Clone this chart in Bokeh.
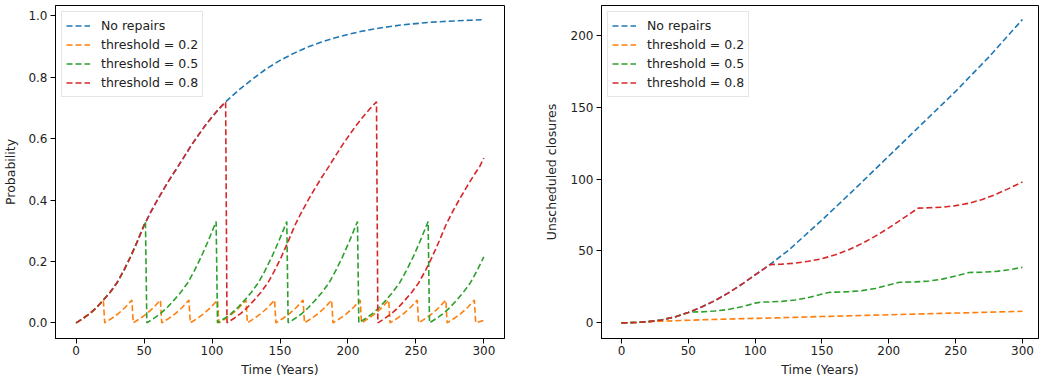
from bokeh.plotting import figure
from bokeh.layouts import row
from bokeh.models import Range1d, FixedTicker, PrintfTickFormatter
from bokeh.embed import file_html
from bokeh.resources import INLINE

# ---------------- data ----------------
series_names = ["No repairs", "threshold = 0.2", "threshold = 0.5", "threshold = 0.8"]
series_colors = ["#1f77b4", "#ff7f0e", "#2ca02c", "#d62728"]

x_ticks = [0, 50, 100, 150, 200, 250, 300]
prob_ticks = [0.0, 0.2, 0.4, 0.6, 0.8, 1.0]
closure_ticks = [0, 50, 100, 150, 200]

# Probability, no repairs
prob_none_t = [0, 5, 10, 15, 20, 25, 30, 35, 40, 45, 50, 55, 60, 65, 70, 75, 80, 85, 90, 95, 100, 105, 110,
               120, 130, 140, 150, 160, 170, 180, 190, 200, 210, 220, 230, 240, 250, 260, 270, 280, 290, 300]
prob_none_p = [0.000, 0.014, 0.030, 0.050, 0.074, 0.100, 0.130, 0.170, 0.215, 0.265, 0.318, 0.362, 0.402,
               0.440, 0.476, 0.510, 0.545, 0.580, 0.612, 0.643, 0.671, 0.697, 0.720,
               0.760, 0.795, 0.828, 0.855, 0.878, 0.898, 0.914, 0.928, 0.940, 0.950, 0.958, 0.965,
               0.971, 0.975, 0.979, 0.982, 0.984, 0.986, 0.988]

# Probability, threshold = 0.2
prob_02_t = [0, 5, 10, 15, 20, 21, 26, 31, 36, 41, 42, 47, 52, 57, 62, 63, 68, 73, 78, 83,
             84, 89, 94, 99, 104, 105, 110, 115, 120, 125, 126, 131, 136, 141, 146,
             147, 152, 157, 162, 167, 168, 173, 178, 183, 188, 189, 194, 199, 204, 209,
             210, 215, 220, 225, 230, 231, 236, 241, 246, 251, 252, 257, 262, 267, 272,
             273, 278, 283, 288, 293, 294, 300]
prob_02_p = [0.0, 0.014, 0.030, 0.050, 0.074, 0.0, 0.014, 0.030, 0.050, 0.074,
             0.0, 0.014, 0.030, 0.050, 0.074, 0.0, 0.014, 0.030, 0.050, 0.074,
             0.0, 0.014, 0.030, 0.050, 0.074, 0.0, 0.014, 0.030, 0.050, 0.074,
             0.0, 0.014, 0.030, 0.050, 0.074, 0.0, 0.014, 0.030, 0.050, 0.074,
             0.0, 0.014, 0.030, 0.050, 0.074, 0.0, 0.014, 0.030, 0.050, 0.074,
             0.0, 0.014, 0.030, 0.050, 0.074, 0.0, 0.014, 0.030, 0.050, 0.074,
             0.0, 0.014, 0.030, 0.050, 0.074, 0.0, 0.014, 0.030, 0.050, 0.074,
             0.0, 0.008]

# Probability, threshold = 0.5
prob_05_t = [0, 5, 10, 15, 20, 25, 30, 35, 40, 45, 51,
             52, 57, 62, 67, 72, 77, 82, 87, 92, 97, 103,
             104, 109, 114, 119, 124, 129, 134, 139, 144, 149, 155,
             156, 161, 166, 171, 176, 181, 186, 191, 196, 201, 207,
             208, 213, 218, 223, 228, 233, 238, 243, 248, 253, 259,
             260, 265, 270, 275, 280, 285, 290, 295, 300]
prob_05_p = [0.0, 0.014, 0.030, 0.050, 0.074, 0.100, 0.130, 0.170, 0.215, 0.265, 0.330,
             0.0, 0.014, 0.030, 0.050, 0.074, 0.100, 0.130, 0.170, 0.215, 0.265, 0.330,
             0.0, 0.014, 0.030, 0.050, 0.074, 0.100, 0.130, 0.170, 0.215, 0.265, 0.330,
             0.0, 0.014, 0.030, 0.050, 0.074, 0.100, 0.130, 0.170, 0.215, 0.265, 0.330,
             0.0, 0.014, 0.030, 0.050, 0.074, 0.100, 0.130, 0.170, 0.215, 0.265, 0.330,
             0.0, 0.014, 0.030, 0.050, 0.074, 0.100, 0.130, 0.170, 0.215]

# Probability, threshold = 0.8
prob_08_t = [0, 5, 10, 15, 20, 25, 30, 35, 40, 45, 50, 55, 60, 65, 70, 75, 80, 85, 90, 95, 100, 105, 110,
             111, 116, 121, 126, 131, 136, 141, 146, 151, 156, 161, 166, 171, 176, 181, 186, 191, 196,
             201, 206, 211, 216, 221,
             222, 227, 232, 237, 242, 247, 252, 257, 262, 267, 272, 277, 282, 287, 292, 297, 300]
prob_08_p = [0.000, 0.014, 0.030, 0.050, 0.074, 0.100, 0.130, 0.170, 0.215, 0.265, 0.318, 0.362, 0.402,
             0.440, 0.476, 0.510, 0.545, 0.580, 0.612, 0.643, 0.671, 0.697, 0.720,
             0.000, 0.014, 0.030, 0.050, 0.074, 0.100, 0.130, 0.170, 0.215, 0.265, 0.318, 0.362, 0.402,
             0.440, 0.476, 0.510, 0.545, 0.580, 0.612, 0.643, 0.671, 0.697, 0.720,
             0.000, 0.014, 0.030, 0.050, 0.074, 0.100, 0.130, 0.170, 0.215, 0.265, 0.318, 0.362, 0.402,
             0.440, 0.476, 0.510, 0.537]

# Unscheduled closures
clos_none_t = [0, 10, 20, 30, 40, 50, 60, 70, 80, 90, 100, 111, 125, 150, 175, 200, 225, 250, 275, 300]
clos_none_c = [0, 0.2, 0.8, 2.0, 4.1, 7.2, 11.0, 15.5, 20.8, 26.8, 33.3, 40.5, 50.5, 71.5, 93.5,
               116.0, 138.5, 161.0, 185.0, 211.0]

clos_02_t = [0, 10, 20, 30, 50, 75, 100, 125, 150, 175, 200, 225, 250, 275, 300]
clos_02_c = [0, 0.2, 0.7, 1.1, 1.8, 2.5, 3.1, 3.7, 4.4, 5.0, 5.6, 6.2, 6.8, 7.4, 8.0]

clos_05_t = [0, 10, 20, 30, 40, 50, 52, 60, 70, 80, 90, 100, 104, 110, 120, 130, 140, 150, 156,
             160, 170, 180, 190, 200, 208, 220, 230, 240, 250, 260, 270, 280, 290, 300]
clos_05_c = [0, 0.2, 0.8, 2.0, 4.1, 7.2, 7.5, 7.65, 8.2, 9.3, 11.2, 13.7, 14.4, 14.5, 14.9, 15.9,
             17.6, 20.0, 21.3, 21.35, 21.65, 22.4, 23.9, 26.3, 28.2, 28.45, 29.1, 30.4, 32.6, 35.0,
             35.2, 35.7, 36.9, 38.6]

clos_08_t = [0, 10, 20, 30, 40, 50, 60, 70, 80, 90, 100, 111, 120, 130, 140, 150, 160, 170, 180, 190,
             200, 210, 222, 230, 240, 250, 260, 270, 280, 290, 300]
clos_08_c = [0, 0.2, 0.8, 2.0, 4.1, 7.2, 11.0, 15.5, 20.8, 26.8, 33.3, 40.5, 40.8, 41.5, 42.8, 44.6,
             47.3, 50.8, 55.2, 60.3, 66.0, 72.2, 79.8, 80.0, 80.4, 81.5, 83.2, 85.8, 89.3, 93.5, 98.0]

# ---------------- styling helpers ----------------
FONT = "DejaVu Sans"
TXT = "#222222"


def style(p, xlabel, ylabel, yticks, yfmt, ylab_standoff):
    p.xaxis.axis_label = xlabel
    p.yaxis.axis_label = ylabel
    p.xaxis.ticker = FixedTicker(ticks=x_ticks)
    p.yaxis.ticker = FixedTicker(ticks=yticks)
    p.yaxis.formatter = PrintfTickFormatter(format=yfmt)
    for ax in (p.xaxis[0], p.yaxis[0]):
        ax.axis_label_text_font = FONT
        ax.axis_label_text_font_size = "12.5px"
        ax.axis_label_text_font_style = "normal"
        ax.axis_label_text_color = TXT
        ax.major_label_text_font = FONT
        ax.major_label_text_font_size = "12px"
        ax.major_label_text_color = TXT
        ax.major_tick_out = 5
        ax.major_tick_in = 0
        ax.minor_tick_out = 0
        ax.minor_tick_in = 0
        ax.axis_line_color = "black"
        ax.major_tick_line_color = "black"
    p.xaxis.major_label_standoff = 2
    p.yaxis.major_label_standoff = 3
    p.xaxis.axis_label_standoff = 4
    p.yaxis.axis_label_standoff = ylab_standoff
    p.xgrid.visible = False
    p.ygrid.visible = False
    p.outline_line_color = "black"
    p.outline_line_width = 1
    p.background_fill_color = "white"
    p.border_fill_color = "white"

    lg = p.legend[0]
    lg.location = "top_left"
    lg.label_text_font = FONT
    lg.label_text_font_size = "12.5px"
    lg.label_text_color = TXT
    lg.glyph_width = 24
    lg.glyph_height = 19
    lg.label_height = 19
    lg.label_standoff = 11
    lg.spacing = 0
    lg.padding = 4
    lg.margin = 6
    lg.border_line_color = "#cccccc"
    lg.border_line_width = 1
    lg.background_fill_color = "white"
    lg.background_fill_alpha = 0.8


DASH = "6 3"
LW = 1.6

# ---------------- left: probability ----------------
p1 = figure(width=540, height=384, output_backend="svg", toolbar_location=None,
            x_range=Range1d(-15.2, 315.2), y_range=Range1d(-0.051, 1.034),
            min_border_left=55, min_border_right=36, min_border_top=5, min_border_bottom=46)
prob_series = [(prob_none_t, prob_none_p), (prob_02_t, prob_02_p),
               (prob_05_t, prob_05_p), (prob_08_t, prob_08_p)]
for (xs, ys), name, col in zip(prob_series, series_names, series_colors):
    p1.line(xs, ys, line_color=col, line_width=LW, line_dash=DASH, legend_label=name)
style(p1, "Time (Years)", "Probability", prob_ticks, "%.1f", 7)

# ---------------- right: unscheduled closures ----------------
p2 = figure(width=499, height=384, output_backend="svg", toolbar_location=None,
            x_range=Range1d(-14.95, 312.0), y_range=Range1d(-10.9, 220.7),
            min_border_left=54, min_border_right=1, min_border_top=5, min_border_bottom=46)
clos_series = [(clos_none_t, clos_none_c), (clos_02_t, clos_02_c),
               (clos_05_t, clos_05_c), (clos_08_t, clos_08_c)]
for (xs, ys), name, col in zip(clos_series, series_names, series_colors):
    p2.line(xs, ys, line_color=col, line_width=LW, line_dash=DASH, legend_label=name)
style(p2, "Time (Years)", "Unscheduled closures", closure_ticks, "%d", 9)

layout = row(p1, p2)
open("out.html", "w").write(file_html(layout, INLINE))
